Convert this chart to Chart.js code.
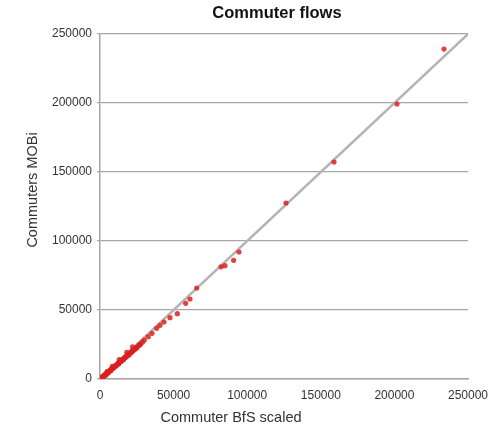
<!DOCTYPE html>
<html>
<head>
<meta charset="utf-8">
<script src="https://cdn.jsdelivr.net/npm/chart.js@4/dist/chart.umd.min.js"></script>
<style>
    html, body { margin: 0; padding: 0; background: #fff; }
    #wrap { width: 501px; height: 429px; }
</style>
</head>
<body>
<div id="wrap"><canvas id="chart" width="501" height="429"></canvas></div>
<script>
// commuter counts: BfS (scaled) vs MOBi
const bfsScaled = [
    50, 120, 200, 300, 450, 600, 750, 900, 1200, 1500, 1800, 2100, 2500, 2900, 3300,
    3700, 4100, 4600, 5000, 5400, 5900, 6300, 6800, 7200, 7700, 8100, 8600, 9000, 9500,
    10100, 10600, 11200, 11700, 12300, 12800, 13400, 14000, 14600, 15200, 15900, 16500,
    17200, 17900, 18600, 19300, 20100, 20900, 21800, 22600, 23500, 24400, 25300, 26400,
    27500, 28800, 30000,
    1000, 2400, 3900, 5600, 7400, 9200, 11000, 12600, 14300, 16000, 17800, 19700,
    21500, 23200, 25000, 26900, 4800, 8400, 13100, 18200, 22100,
    32800, 35330, 38500, 40760, 43480, 47550, 52520, 58200, 61140,
    65700, 82200, 84900, 90800, 94430, 126360, 158970, 201770, 233700
];
const mobi = [
    40, 110, 190, 280, 420, 560, 700, 850, 1100, 1420, 1650, 1980, 2300, 2700, 3050,
    3400, 3800, 4250, 4600, 5050, 5400, 5800, 6300, 6600, 7100, 7450, 7900, 8300, 8700,
    9300, 9700, 10300, 10700, 11400, 11800, 12300, 12900, 13400, 14100, 14600, 15300,
    15800, 16600, 17100, 17900, 18500, 19400, 20100, 20900, 21600, 22700, 23300, 24600,
    25400, 26700, 28100,
    300, 1500, 2800, 4300, 6000, 7900, 9500, 10800, 12600, 14000, 15900, 17400,
    19300, 21000, 22400, 24600, 5400, 9100, 14000, 19400, 23300,
    30650, 33100, 36700, 38900, 41300, 44420, 47320, 54860, 57970,
    65940, 81300, 82100, 86000, 92030, 127540, 157250, 199275, 239100
];
const axisMax = 250000;
const axisStep = 50000;

const points = bfsScaled.map((x, i) => ({ x: x, y: mobi[i] }));

// title and axis titles are drawn by hand so they sit where the original has them
const textPlugin = {
    id: 'texts',
    afterDraw(chart) {
        const c = chart.ctx;
        c.save();
        c.fillStyle = '#111';
        c.textAlign = 'center';
        c.textBaseline = 'middle';
        c.font = 'bold 16.5px "Liberation Sans", Arial, sans-serif';
        c.fillText('Commuter flows', 277, 13);
        c.fillStyle = '#333';
        c.font = '14.5px "Liberation Sans", Arial, sans-serif';
        c.fillText('Commuter BfS scaled', 231, 418);
        c.translate(33, 190);
        c.rotate(-Math.PI / 2);
        c.fillText('Commuters MOBi', 0, 0);
        c.restore();
    }
};

const tickFont = { family: '"Liberation Sans", Arial, sans-serif', size: 12 };

const ctx = document.getElementById('chart').getContext('2d');
new Chart(ctx, {
    type: 'scatter',
    data: {
        datasets: [{
            label: 'Flows',
            data: points,
            backgroundColor: 'rgba(218, 32, 32, 0.85)',
            borderWidth: 0,
            pointRadius: 2.6,
            pointHoverRadius: 2.6,
            order: 0
        }, {
            type: 'line',
            label: 'y = x',
            data: [{ x: 0, y: 0 }, { x: axisMax, y: axisMax }],
            borderColor: '#b4b4b4',
            borderWidth: 2.5,
            pointRadius: 0,
            fill: false,
            order: 1
        }]
    },
    options: {
        responsive: false,
        animation: false,
        layout: { padding: { top: 34, right: 33, left: 0, bottom: 0 } },
        plugins: {
            legend: { display: false },
            tooltip: { enabled: false }
        },
        scales: {
            x: {
                type: 'linear',
                min: 0,
                max: axisMax,
                afterFit: s => { s.height = 50; },
                grid: { display: false, tickLength: 4 },
                border: { display: true, color: '#a6a6a6', width: 1.5 },
                ticks: {
                    stepSize: axisStep,
                    padding: 5,
                    color: '#333',
                    maxRotation: 0,
                    font: tickFont,
                    callback: v => String(v)
                }
            },
            y: {
                type: 'linear',
                min: 0,
                max: axisMax,
                afterFit: s => { s.width = 100; },
                grid: { color: '#a6a6a6', lineWidth: 1.2, tickLength: 3 },
                border: { display: true, color: '#a6a6a6', width: 1.5 },
                ticks: {
                    stepSize: axisStep,
                    padding: 5,
                    color: '#333',
                    font: tickFont,
                    callback: v => String(v)
                }
            }
        }
    },
    plugins: [textPlugin]
});
</script>
</body>
</html>
